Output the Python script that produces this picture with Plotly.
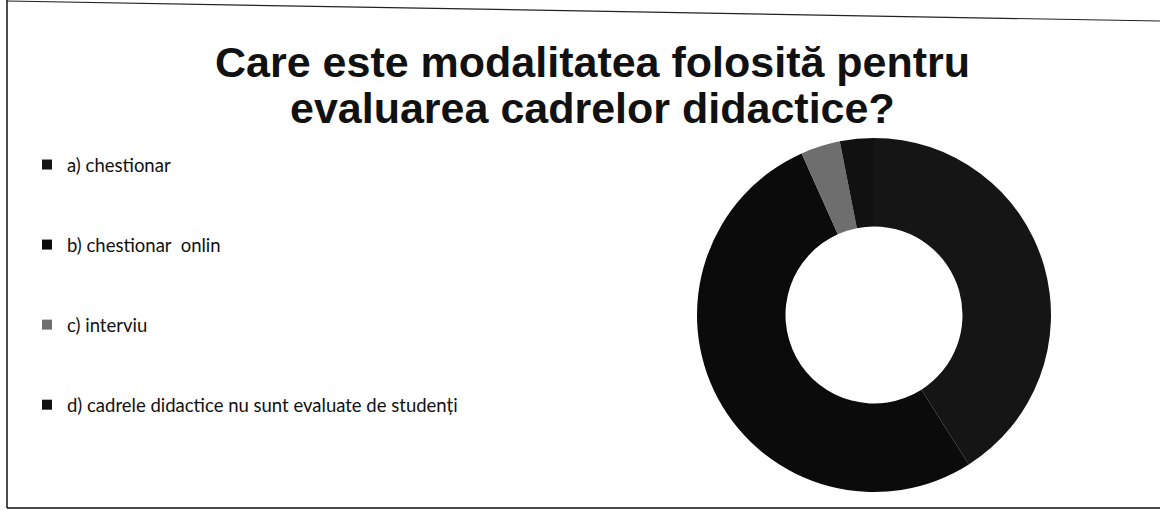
import plotly.graph_objects as go

W, H = 1160, 511

categories = [
    "a) chestionar",
    "b) chestionar  onlin",
    "c) interviu",
    "d) cadrele didactice nu sunt evaluate de studenți",
]
values = [41.0, 52.3, 3.6, 3.1]
colors = ["#151515", "#0b0b0b", "#6e6e6e", "#111111"]
title_lines = ["Care este modalitatea folosită pentru", "evaluarea cadrelor didactice?"]


def px(x):
    return x / W


def py(y):
    return 1 - y / H


fig = go.Figure()

fig.add_trace(
    go.Pie(
        labels=categories,
        values=values,
        hole=0.5,
        sort=False,
        direction="clockwise",
        rotation=0,
        textinfo="none",
        hoverinfo="label+percent",
        showlegend=False,
        marker=dict(colors=colors, line=dict(width=0)),
        domain=dict(x=[px(697), px(1051)], y=[py(492), py(138)]),
    )
)

# legend entries (one per category, same colours as the slices)
for cat, col in zip(categories, colors):
    fig.add_trace(
        go.Scatter(
            x=[None],
            y=[None],
            mode="markers",
            name=cat,
            legendgroup=cat,
            marker=dict(symbol="square", size=10, color=col),
            hoverinfo="skip",
        )
    )

shapes = [
    dict(type="line", xref="paper", yref="paper", x0=px(7), y0=py(0), x1=px(7), y1=py(508),
         line=dict(color="#111", width=1.5)),
    dict(type="line", xref="paper", yref="paper", x0=px(7), y0=py(508), x1=px(1160), y1=py(508),
         line=dict(color="#111", width=1.5)),
    dict(type="line", xref="paper", yref="paper", x0=px(7), y0=py(1), x1=px(1160), y1=py(21),
         line=dict(color="#222", width=1.2)),
]

title_font = dict(family="Liberation Sans, Arial, sans-serif", size=43, color="#111")
annotations = [
    dict(text="<b>%s</b>" % title_lines[0], xref="paper", yref="paper", x=px(592), y=py(62),
         xanchor="center", yanchor="middle", showarrow=False, font=title_font),
    dict(text="<b>%s</b>" % title_lines[1], xref="paper", yref="paper", x=px(592), y=py(108),
         xanchor="center", yanchor="middle", showarrow=False, font=title_font),
]

fig.update_layout(
    width=W,
    height=H,
    margin=dict(l=0, r=0, t=0, b=0, autoexpand=False),
    paper_bgcolor="white",
    plot_bgcolor="white",
    xaxis=dict(visible=False),
    yaxis=dict(visible=False),
    showlegend=True,
    legend=dict(
        x=px(27),
        xanchor="left",
        y=py(146),
        yanchor="top",
        bgcolor="rgba(0,0,0,0)",
        font=dict(family="Lato, Open Sans, sans-serif", size=18.5, color="#111"),
        tracegroupgap=53,
        itemclick=False,
        itemdoubleclick=False,
    ),
    shapes=shapes,
    annotations=annotations,
)

fig.write_html("out.html")
